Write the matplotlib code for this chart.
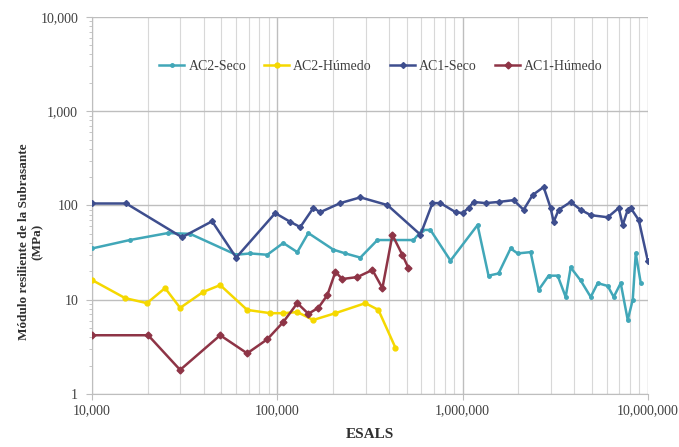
import matplotlib
matplotlib.use("Agg")
import matplotlib.pyplot as plt
from matplotlib.ticker import FuncFormatter, LogLocator, NullFormatter

# ---- data ----
ac2_seco_x = [10000, 16000, 25700, 33900, 60000, 71500, 88300, 107800, 128300, 147100,
              200800, 233100, 280900, 347200, 543500, 607800, 671400, 861100, 1205400,
              1381600, 1565000, 1817700, 1983000, 2331000, 2575000, 2917000, 3263000,
              3605000, 3836000, 4343000, 4920000, 5369000, 6078000, 6549000, 7145000,
              7796000, 8297000, 8612000, 9167000]
ac2_seco_y = [35, 43, 51, 50, 30, 31, 30, 40, 32, 51,
              34, 31, 28, 43, 43, 55, 55, 26, 62,
              18, 19, 35, 31, 32, 12.7, 18, 18,
              10.7, 22, 16, 10.7, 15, 14, 10.7, 15,
              6.1, 10, 31, 15]

ac2_hum_x = [10000, 15100, 19800, 24800, 29900, 39800, 49200, 68800, 91700, 107800,
             128300, 156500, 205900, 299000, 351500, 434300]
ac2_hum_y = [16.2, 10.4, 9.2, 13.3, 8.2, 12.1, 14.3, 7.8, 7.2, 7.2,
             7.4, 6.1, 7.2, 9.2, 7.8, 3.1]

ac1_seco_x = [10000, 15300, 30600, 44500, 60000, 97500, 117600, 133100, 156500, 170800,
              219000, 280900, 393200, 592900, 688400, 760400, 916700, 1000000, 1077600,
              1146900, 1331000, 1565000, 1886800, 2137000, 2390000, 2741000, 2990000,
              3104000, 3304000, 3836000, 4343000, 4920000, 6078000, 6969000, 7325000,
              7796000, 8092000, 8941000, 10000000]
ac1_seco_y = [105, 105, 46, 68, 28, 83, 67, 59, 94, 85,
              106, 122, 101, 49, 106, 106, 85, 83, 94,
              109, 106, 109, 114, 90, 129, 157, 94,
              67, 90, 109, 90, 79, 75, 94, 62,
              90, 94, 70, 26]

ac1_hum_x = [10000, 20100, 29900, 49200, 68800, 88300, 107800, 128300, 147100, 166600,
             186400, 205900, 224600, 270700, 326300, 369500, 418400, 474000, 510700]
ac1_hum_y = [4.2, 4.2, 1.8, 4.2, 2.7, 3.8, 5.8, 9.2, 7.1, 8.2,
             11.2, 19.7, 16.6, 17.4, 20.7, 13.3, 48.6, 29.8, 21.7]

labels = ["AC2-Seco", "AC2-Húmedo", "AC1-Seco", "AC1-Húmedo"]
colors = ["#41A7B8", "#F5D800", "#3E4E8E", "#8E3446"]

plt.rcParams['font.family'] = ['Liberation Serif', 'DejaVu Serif']

fig = plt.figure(figsize=(6.79, 4.47), dpi=100)
ax = fig.add_axes([0.1355, 0.1186, 0.8185, 0.8434])

series = [(ac2_seco_x, ac2_seco_y, 'o', 2.5),
          (ac2_hum_x, ac2_hum_y, 'o', 3.5),
          (ac1_seco_x, ac1_seco_y, 'D', 3.0),
          (ac1_hum_x, ac1_hum_y, 'D', 3.5)]
for (xs, ys, m, ms), lab, c in zip(series, labels, colors):
    ax.plot(xs, ys, color=c, lw=1.8, marker=m, markersize=ms, label=lab, zorder=3)

ax.set_xscale('log')
ax.set_yscale('log')
ax.set_xlim(10000, 10000000)
ax.set_ylim(1, 10000)

fmt = FuncFormatter(lambda v, p: f"{int(round(v)):,}")
ax.xaxis.set_major_formatter(fmt)
ax.yaxis.set_major_formatter(fmt)
ax.xaxis.set_minor_locator(LogLocator(base=10, subs=range(2, 10)))
ax.yaxis.set_minor_locator(LogLocator(base=10, subs=range(2, 10)))
ax.xaxis.set_minor_formatter(NullFormatter())
ax.yaxis.set_minor_formatter(NullFormatter())

ax.grid(True, which='major', axis='both', color='#BEBEBE', lw=1.0)
ax.grid(True, which='minor', axis='x', color='#D8D8D8', lw=0.8)
ax.set_axisbelow(True)

for s in ['top', 'right']:
    ax.spines[s].set_visible(False)
for s in ['left', 'bottom']:
    ax.spines[s].set_color('#BEBEBE')
ax.tick_params(axis='both', which='major', length=4, color='#BEBEBE',
               labelsize=10, labelcolor='#404040', pad=6)
ax.tick_params(axis='x', which='major', pad=3)
ax.tick_params(axis='both', which='minor', length=2.5, color='#BEBEBE')
ax.tick_params(axis='x', which='minor', length=0)

ax.set_xlabel("ESALS", fontsize=11, fontweight='bold', color='#303030', labelpad=8)
fig.text(0.045, 0.46, "Módulo resiliente de la Subrasante\n(MPa)", rotation=90,
         ha='center', va='center', multialignment='center',
         fontsize=9.5, fontweight='bold', color='#303030')

leg = ax.legend(loc='upper center', bbox_to_anchor=(0.52, 0.92), ncol=4, frameon=False,
                fontsize=10, handlelength=1.8, columnspacing=1.3, handletextpad=0.3,
                labelcolor='#404040')

fig.canvas.draw()
gl = ax.get_ygridlines()
if len(gl):
    gl[-1].set_visible(False)

fig.savefig("out.png", dpi=100)
